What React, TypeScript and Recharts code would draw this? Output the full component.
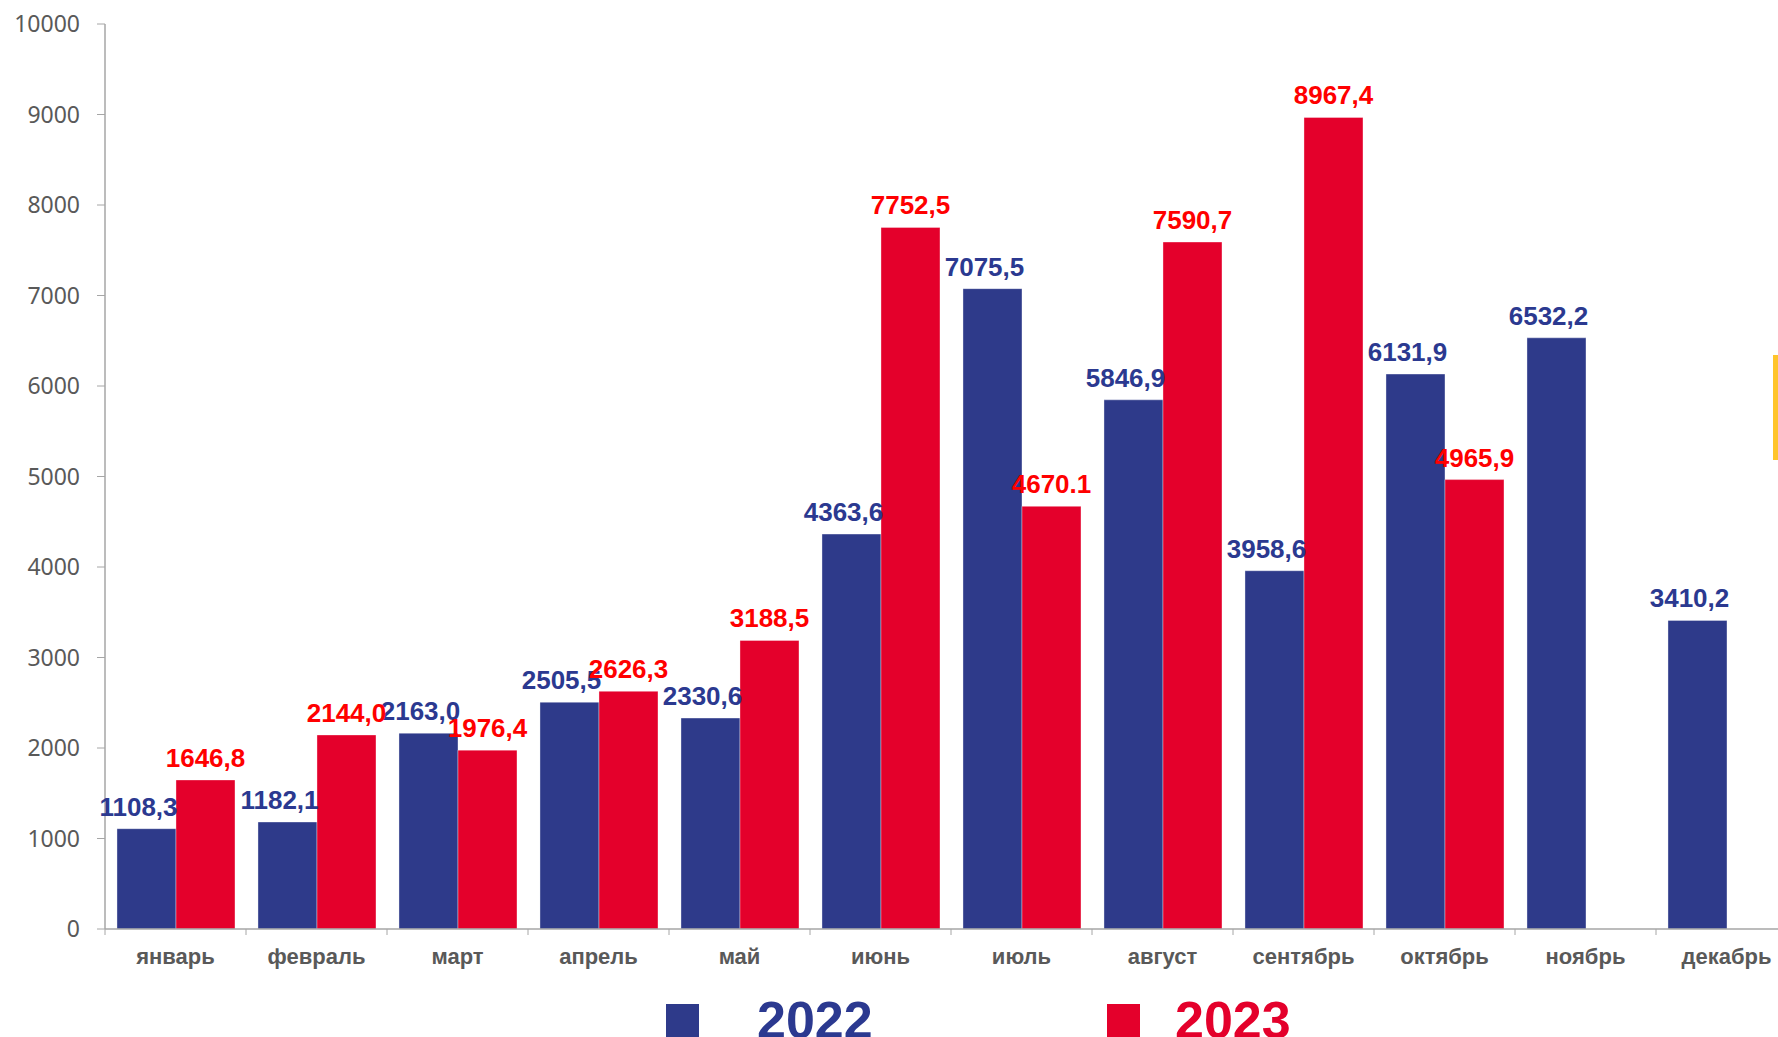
import React from 'react';
import { BarChart, Bar, XAxis, YAxis, LabelList } from 'recharts';

// Помесячные значения, 2022 и 2023
const months = ['январь', 'февраль', 'март', 'апрель', 'май', 'июнь', 'июль', 'август', 'сентябрь', 'октябрь', 'ноябрь', 'декабрь'];
const values2022 = [1108.3, 1182.1, 2163.0, 2505.5, 2330.6, 4363.6, 7075.5, 5846.9, 3958.6, 6131.9, 6532.2, 3410.2];
const values2023 = [1646.8, 2144.0, 1976.4, 2626.3, 3188.5, 7752.5, 4670.1, 7590.7, 8967.4, 4965.9, null, null];
const labels2022 = ['1108,3', '1182,1', '2163,0', '2505,5', '2330,6', '4363,6', '7075,5', '5846,9', '3958,6', '6131,9', '6532,2', '3410,2'];
const labels2023 = ['1646,8', '2144,0', '1976,4', '2626,3', '3188,5', '7752,5', '4670.1', '7590,7', '8967,4', '4965,9', null, null];
const yTicks = [0, 1000, 2000, 3000, 4000, 5000, 6000, 7000, 8000, 9000, 10000];

const data = months.map((m, i) => ({
  month: m,
  v2022: values2022[i],
  v2023: values2023[i],
  l2022: labels2022[i],
  l2023: labels2023[i],
}));

const BLUE = '#2E3A8A';
const RED = '#E4002B';
const BLUE_TEXT = '#2B3990';
const RED_TEXT = '#FF0000';
const GREY = '#595959';
const AXIS = '#A6A6A6';

// подпись над столбцом
const makeLabel = (color: string, dx: number) => (props: any) => {
  const { x, y, width, value } = props;
  if (value == null) return null;
  return (
    <text
      x={Number(x) + Number(width) / 2 + dx}
      y={Number(y) - 13}
      textAnchor="middle"
      fill={color}
      fontFamily="'Liberation Sans', Arial, sans-serif"
      fontWeight="bold"
      fontSize={26}
    >
      {value}
    </text>
  );
};

// подпись месяца + засечка на границе категории
const MonthTick = (props: any) => {
  const { x, y, payload } = props;
  const half = payload?.offset ?? 70.5;
  return (
    <g>
      <line x1={x - half} y1={y} x2={x - half} y2={y + 6} stroke={AXIS} strokeWidth={1} />
      <text
        x={x}
        y={y + 35}
        textAnchor="middle"
        fill={GREY}
        fontFamily="'Liberation Sans', Arial, sans-serif"
        fontWeight="bold"
        fontSize={22}
      >
        {payload.value}
      </text>
    </g>
  );
};

export default function App() {
  return (
    <div style={{ position: 'absolute', left: 0, top: 0, width: 1778, height: 1037, overflow: 'hidden', background: '#fff' }}>
      <BarChart
        width={1802}
        height={1037}
        data={data}
        margin={{ top: 24, right: 5, left: 0, bottom: 48 }}
        barCategoryGap="8.5%"
        barGap={0}
      >
        <XAxis
          dataKey="month"
          height={60}
          tickSize={0}
          tickMargin={0}
          tickLine={false}
          axisLine={{ stroke: AXIS, strokeWidth: 1.5 }}
          tick={<MonthTick />}
          interval={0}
        />
        <YAxis
          width={105}
          domain={[0, 10000]}
          ticks={yTicks}
          interval={0}
          tickSize={8}
          tickMargin={17}
          axisLine={{ stroke: AXIS, strokeWidth: 1.5 }}
          tickLine={{ stroke: AXIS }}
          tick={{ fill: GREY, fontSize: 23, fontFamily: "'Noto Sans', 'Open Sans', sans-serif" }}
        />
        <Bar dataKey="v2022" fill={BLUE} stroke="rgba(255,255,255,0.35)" strokeWidth={1} isAnimationActive={false}>
          <LabelList dataKey="l2022" content={makeLabel(BLUE_TEXT, -8)} />
        </Bar>
        <Bar dataKey="v2023" fill={RED} stroke="rgba(255,255,255,0.35)" strokeWidth={1} isAnimationActive={false}>
          <LabelList dataKey="l2023" content={makeLabel(RED_TEXT, 0)} />
        </Bar>
      </BarChart>

      {/* Легенда */}
      <div style={{ position: 'absolute', left: 666, top: 1004, width: 33, height: 40, background: BLUE }} />
      <div style={{ position: 'absolute', left: 757, top: 994, fontFamily: "'Liberation Sans', Arial, sans-serif", fontWeight: 'bold', fontSize: 52, lineHeight: 1, color: BLUE_TEXT }}>
        2022
      </div>
      <div style={{ position: 'absolute', left: 1107, top: 1004, width: 33, height: 40, background: RED }} />
      <div style={{ position: 'absolute', left: 1175, top: 994, fontFamily: "'Liberation Sans', Arial, sans-serif", fontWeight: 'bold', fontSize: 52, lineHeight: 1, color: RED }}>
        2023
      </div>

      {/* жёлтая полоска у правого края */}
      <div style={{ position: 'absolute', left: 1773, top: 355, width: 5, height: 105, background: '#FFC42B' }} />
    </div>
  );
}
